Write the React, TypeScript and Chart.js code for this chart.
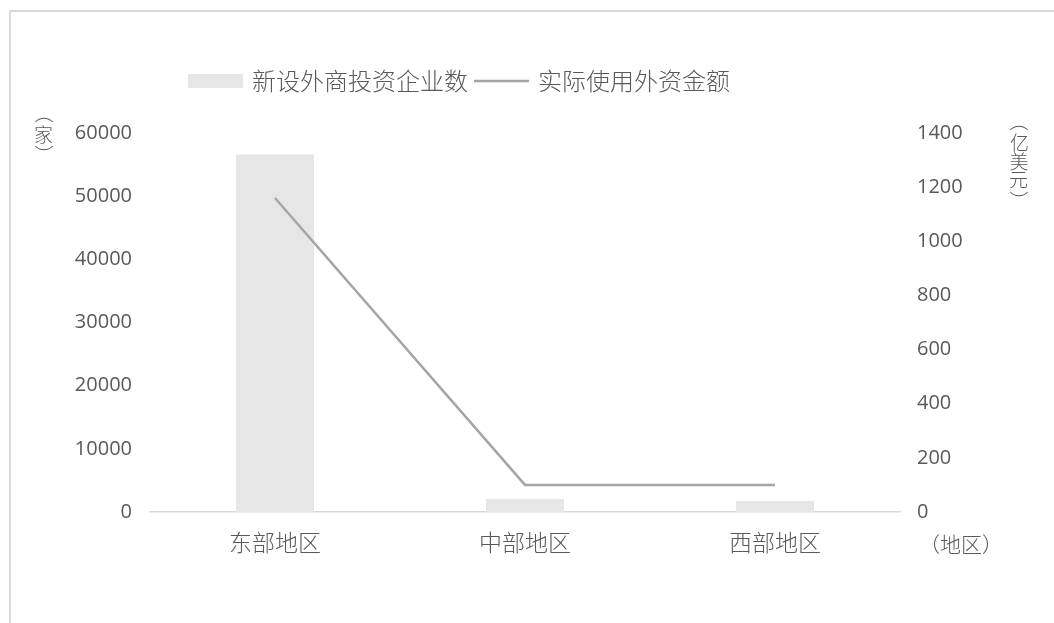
import React, { useEffect, useRef } from "react";
import { Chart, registerables } from "chart.js";

Chart.register(...registerables);

const categories = ["东部地区", "中部地区", "西部地区"];
const enterpriseCounts = [56600, 2050, 1750];
const actualForeignCapital = [1160, 100, 100];
const leftTicks = [0, 10000, 20000, 30000, 40000, 50000, 60000];
const rightTicks = [0, 200, 400, 600, 800, 1000, 1200, 1400];
const seriesNames = ["新设外商投资企业数", "实际使用外资金额"];
const leftTitle = "（家）";
const rightTitle = "（亿美元）";
const xTitle = "（地区）";

const CJK = '"Noto Sans CJK SC", "Noto Sans", sans-serif';
const NUM = '"Open Sans", "Noto Sans", sans-serif';
const TEXT = "#595959";
const BAR = "#e6e6e6";
const LINE = "#a5a5a5";
const AXIS = "#d9d9d9";

// Vertical text: CJK characters upright, full-width parentheses turned 90°.
function drawVertical(ctx: CanvasRenderingContext2D, text: string, x: number, yFirstChar: number, size: number) {
  ctx.save();
  ctx.font = `300 ${size}px ${CJK}`;
  ctx.fillStyle = TEXT;
  ctx.textAlign = "left";
  ctx.textBaseline = "middle";
  const chars = Array.from(text);
  const inner = chars.filter((c) => c !== "（" && c !== "）");
  const parenGap = size * 0.72;
  let innerIndex = 0;
  chars.forEach((ch) => {
    const m = ctx.measureText(ch);
    const gx = (m.actualBoundingBoxRight - m.actualBoundingBoxLeft) / 2;
    const gy = (m.actualBoundingBoxDescent - m.actualBoundingBoxAscent) / 2;
    let cy: number;
    if (ch === "（") {
      cy = yFirstChar - parenGap;
    } else if (ch === "）") {
      cy = yFirstChar + (inner.length - 1) * size + parenGap;
    } else {
      cy = yFirstChar + innerIndex * size;
      innerIndex++;
    }
    ctx.save();
    ctx.translate(x, cy);
    if (ch === "（" || ch === "）") ctx.rotate(Math.PI / 2);
    ctx.fillText(ch, -gx, -gy);
    ctx.restore();
  });
  ctx.restore();
}

const decorPlugin = {
  id: "decor",
  beforeDraw(chart: any) {
    const ctx = chart.ctx as CanvasRenderingContext2D;
    ctx.save();
    ctx.strokeStyle = AXIS;
    ctx.lineWidth = 2;
    ctx.beginPath();
    ctx.moveTo(10, 623);
    ctx.lineTo(10, 11);
    ctx.lineTo(1054, 11);
    ctx.stroke();
    ctx.restore();
  },
  afterDraw(chart: any) {
    const ctx = chart.ctx as CanvasRenderingContext2D;
    const ds = chart.data.datasets;
    ctx.save();
    ctx.font = `300 24px ${CJK}`;
    ctx.textBaseline = "middle";
    let x = 188;
    const y = 81;
    ctx.fillStyle = BAR;
    ctx.fillRect(x, 74, 55, 14);
    x += 55 + 9;
    ctx.fillStyle = TEXT;
    ctx.fillText(ds[0].label, x, y);
    x += ctx.measureText(ds[0].label).width + 6;
    ctx.strokeStyle = LINE;
    ctx.lineWidth = 2.5;
    ctx.beginPath();
    ctx.moveTo(x, y);
    ctx.lineTo(x + 55, y);
    ctx.stroke();
    x += 55 + 9;
    ctx.fillText(ds[1].label, x, y);
    ctx.restore();

    drawVertical(ctx, leftTitle, 44, 134, 19);
    drawVertical(ctx, rightTitle, 1019, 142, 19);

    ctx.save();
    ctx.font = `300 21px ${CJK}`;
    ctx.fillStyle = TEXT;
    ctx.textAlign = "center";
    ctx.textBaseline = "middle";
    ctx.fillText(xTitle, 961, 544);
    ctx.restore();
  },
};

export default function App() {
  const ref = useRef<HTMLCanvasElement | null>(null);
  useEffect(() => {
    if (!ref.current) return;
    const chart = new Chart(ref.current, {
      type: "bar",
      data: {
        labels: categories,
        datasets: [
          {
            type: "bar",
            label: seriesNames[0],
            data: enterpriseCounts,
            backgroundColor: BAR,
            yAxisID: "y",
            barPercentage: 0.312,
            categoryPercentage: 1,
            order: 2,
          },
          {
            type: "line",
            label: seriesNames[1],
            data: actualForeignCapital,
            borderColor: LINE,
            borderWidth: 2.5,
            pointRadius: 0,
            tension: 0,
            yAxisID: "y1",
            order: 1,
          } as any,
        ],
      },
      options: {
        responsive: false,
        animation: false,
        layout: { padding: { top: 133, bottom: 0, left: 0, right: 0 } },
        plugins: { legend: { display: false }, tooltip: { enabled: false } },
        scales: {
          x: {
            grid: { display: false, drawTicks: false },
            border: { display: true, color: AXIS, width: 1.5 },
            ticks: { color: TEXT, font: { family: CJK, size: 23, weight: "300" as any }, padding: 16 },
            afterFit(scale: any) {
              scale.height = 111;
            },
          },
          y: {
            position: "left",
            min: 0,
            max: 60000,
            afterBuildTicks(scale: any) {
              scale.ticks = leftTicks.map((v) => ({ value: v }));
            },
            grid: { display: false, drawTicks: false },
            border: { display: false },
            ticks: { color: TEXT, font: { family: NUM, size: 20 }, padding: 18, callback: (v: any) => String(v) },
            afterFit(scale: any) {
              scale.width = 150;
            },
          },
          y1: {
            position: "right",
            min: 0,
            max: 1400,
            afterBuildTicks(scale: any) {
              scale.ticks = rightTicks.map((v) => ({ value: v }));
            },
            grid: { display: false, drawTicks: false },
            border: { display: false },
            ticks: { color: TEXT, font: { family: NUM, size: 20 }, padding: 17, callback: (v: any) => String(v) },
            afterFit(scale: any) {
              scale.width = 154;
            },
          },
        },
      },
      plugins: [decorPlugin],
    });
    return () => chart.destroy();
  }, []);
  return (
    <div style={{ position: "absolute", left: 0, top: 0, width: 1054, height: 623, background: "#fff" }}>
      <canvas ref={ref} width={1054} height={623} />
    </div>
  );
}
